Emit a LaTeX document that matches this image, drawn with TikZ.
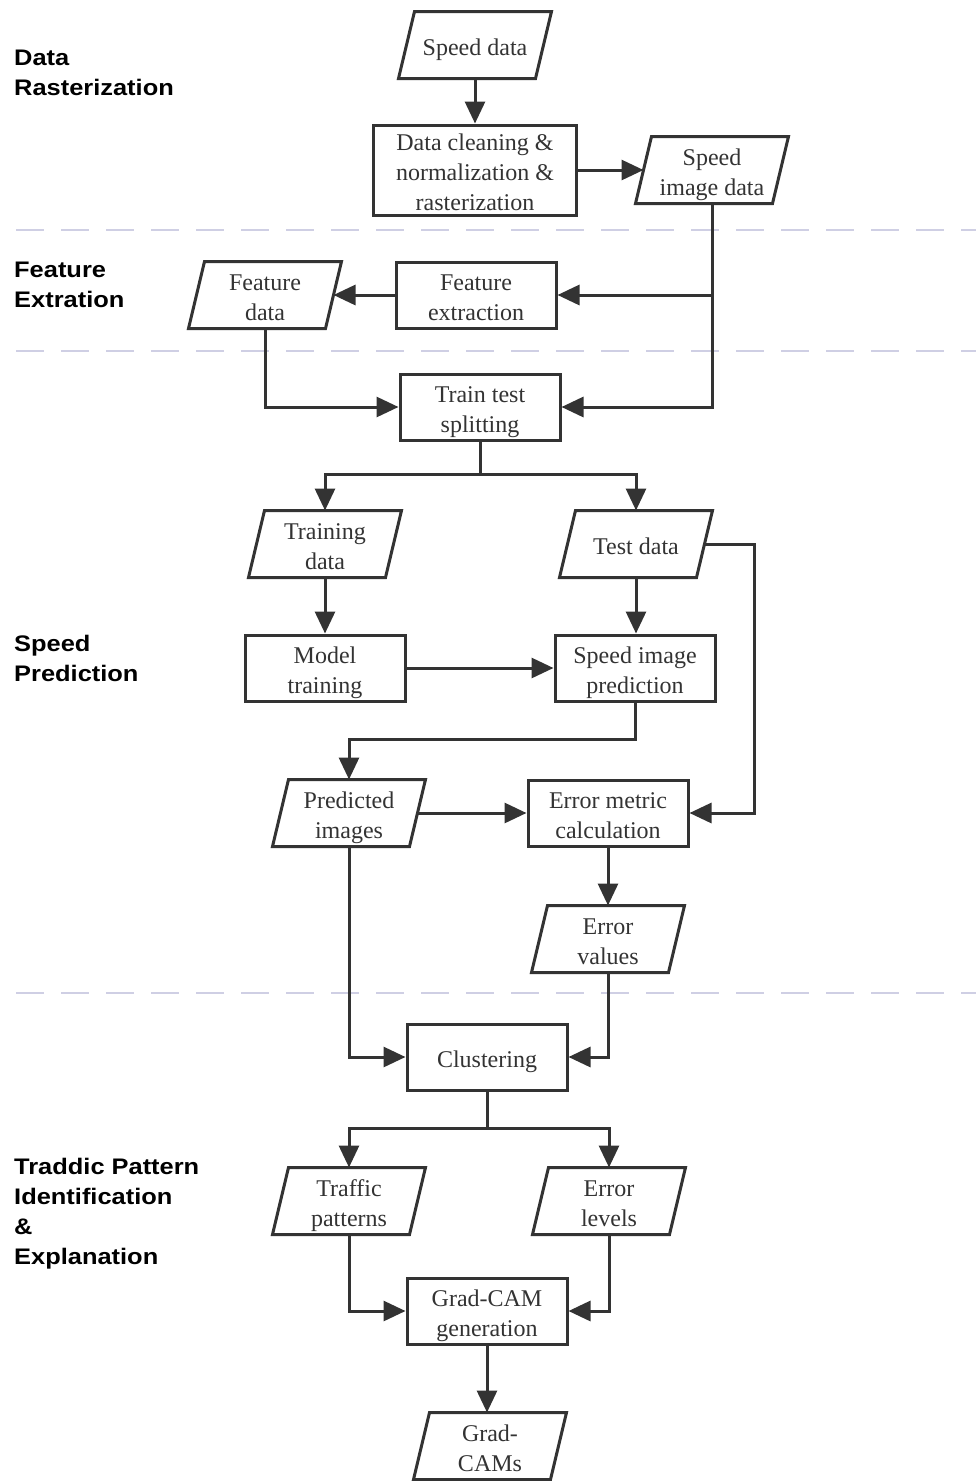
\documentclass[tikz,border=0pt]{standalone}
\usepackage{fontspec}
\setmainfont{Liberation Serif}
\newfontfamily\lanefont{Liberation Sans}[FakeStretch=1.13]
\usetikzlibrary{arrows.meta,calc}
\definecolor{ink}{HTML}{333333}
\definecolor{laneline}{HTML}{CFCFE4}

% data (input/output) node: invisible rectangle plus a slanted outline
\newcommand{\ionode}[4][l2]{%
  \node[iotext,#1] (#2) at (#3) {#4};
  \draw[shapeline] ($(#2.north west)+(8,0)$) -- ($(#2.north east)+(8,0)$)
    -- ($(#2.south east)-(8,0)$) -- ($(#2.south west)-(8,0)$) -- cycle;}

\begin{document}
\begin{tikzpicture}[x=1pt,y=-1pt,
  font=\fontsize{24}{30}\selectfont,
  % text blocks of one, two and three 30pt lines
  l1/.style={text height=25.1pt, text depth=4.9pt},
  l2/.style={text height=55.1pt, text depth=4.9pt},
  l3/.style={text height=85.1pt, text depth=4.9pt},
  shapeline/.style={draw=ink, line width=3pt, line join=miter},
  procbox/.style={draw=ink, line width=3pt, minimum width=160pt, minimum height=66pt,
    align=center, text=ink, inner sep=0pt, l2},
  iotext/.style={minimum width=137pt, minimum height=67pt, align=center, text=ink,
    inner sep=0pt, outer sep=0pt},
  flow/.style={draw=ink, line width=3pt, -{Triangle[length=22pt,width=20pt]}},
  link/.style={draw=ink, line width=3pt},
  lane/.style={draw=laneline, line width=2pt, dash pattern=on 28pt off 17pt},
  lanelabel/.style={anchor=north west, inner sep=0pt, align=left,
    font=\lanefont\bfseries\fontsize{22.5}{30}\selectfont}]
\useasboundingbox (0,0) rectangle (976,1481);

% lane separators
\draw[lane] (16,230) -- (976,230);
\draw[lane] (16,351) -- (976,351);
\draw[lane] (16,993) -- (976,993);

% lane titles
\node[lanelabel] (lab1) at (14,50) {Data\\Rasterization};
\node[lanelabel] (lab2) at (14,262) {Feature\\Extration};
\node[lanelabel] (lab3) at (14,635) {Speed\\Prediction};
\node[lanelabel] (lab4) at (14,1158) {Traddic Pattern\\Identification\\\&\\Explanation};

% nodes
\ionode[l1]{speed}{475,45}{Speed data}
\node[procbox, l3, minimum width=203pt, minimum height=89pt] (clean) at (475,170)
  {Data cleaning \&\\normalization \&\\rasterization};
\ionode{simg}{712,170}{Speed\\image data}
\node[procbox] (fext) at (476,295) {Feature\\extraction};
\ionode{fdata}{265,295}{Feature\\data}
\node[procbox] (split) at (480,407) {Train test\\splitting};
\ionode{train}{325,544}{Training\\data}
\ionode[l1]{test}{636,544}{Test data}
\node[procbox] (model) at (325,668) {Model\\training};
\node[procbox] (pred) at (635,668) {Speed image\\prediction};
\ionode{predimg}{349,813}{Predicted\\images}
\node[procbox] (metric) at (608,813) {Error metric\\calculation};
\ionode{errval}{608,939}{Error\\values}
\node[procbox, l1] (clust) at (487,1057) {Clustering};
\ionode{traffic}{349,1201}{Traffic\\patterns}
\ionode{errlev}{609,1201}{Error\\levels}
\node[procbox] (gcam) at (487,1311) {Grad-CAM\\generation};
\ionode{gcams}{490,1446}{Grad-\\CAMs}

% connectors
\draw[flow] (speed) -- (clean);
\draw[flow] (clean) -- (simg);
\draw[flow] (simg.south) |- (split.east);
\draw[flow] (simg.south |- fext.east) -- (fext.east);
\draw[flow] (fext) -- (fdata);
\draw[flow] (fdata.south) |- (split.west);
\coordinate (fork1) at ($(split.south)+(0,33)$);
\draw[link] (split.south) -- (fork1);
\draw[flow] (fork1) -| (train.north);
\draw[flow] (fork1) -| (test.north);
\draw[flow] (train) -- (model);
\draw[flow] (test.south) -- (test.south |- pred.north);
\draw[flow] (model) -- (pred);
\coordinate (bend) at ($(pred.south)+(0,37)$);
\draw[flow] (pred.south) -- (bend) -| (predimg.north);
\coordinate (detour) at ($(test.east)+(50,0)$);
\draw[flow] (test.east) -- (detour) |- (metric.east);
\draw[flow] (predimg) -- (metric);
\draw[flow] (metric) -- (errval);
\draw[flow] (predimg.south) |- (clust.west);
\draw[flow] (errval.south) |- (clust.east);
\coordinate (fork2) at ($(clust.south)+(0,37)$);
\draw[link] (clust.south) -- (fork2);
\draw[flow] (fork2) -| (traffic.north);
\draw[flow] (fork2) -| (errlev.north);
\draw[flow] (traffic.south) |- (gcam.west);
\draw[flow] (errlev.south) |- (gcam.east);
\draw[flow] (gcam.south) -- (gcam.south |- gcams.north);
\end{tikzpicture}
\end{document}
